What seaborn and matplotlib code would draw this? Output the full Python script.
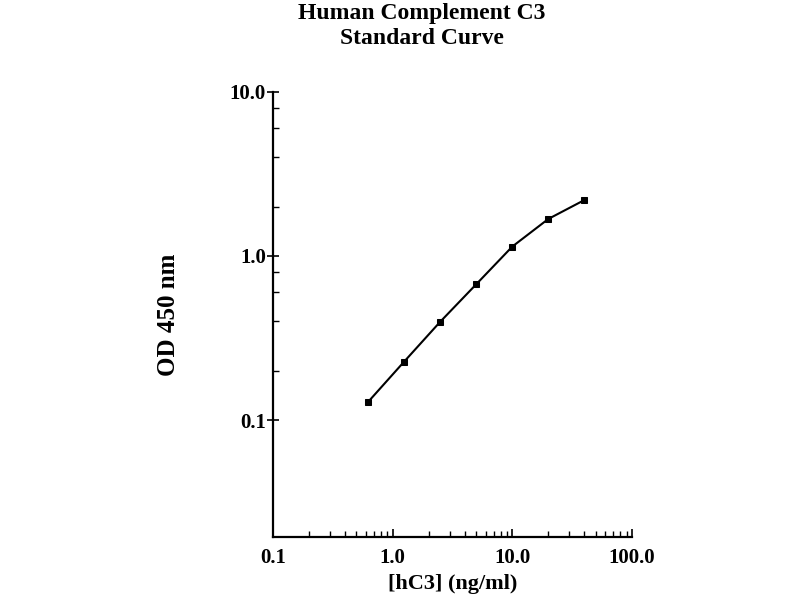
import numpy as np
import pandas as pd
import seaborn as sns
import matplotlib.pyplot as plt
from matplotlib.ticker import FixedLocator, FixedFormatter

# standard curve values
conc_ng_ml = [0.625, 1.25, 2.5, 5.0, 10.0, 20.0, 40.0]
od_450 = [0.129, 0.227, 0.397, 0.672, 1.14, 1.68, 2.19]

x_ticks = [0.1, 1.0, 10.0, 100.0]
x_tick_labels = ['0.1', '1.0', '10.0', '100.0']
y_ticks = [0.1, 1.0, 10.0]
y_tick_labels = ['0.1', '1.0', '10.0']

df = pd.DataFrame({'conc': conc_ng_ml, 'od': od_450})

sns.set_style('ticks', {'text.color': 'black', 'axes.labelcolor': 'black',
                        'xtick.color': 'black', 'ytick.color': 'black', 'axes.edgecolor': 'black'})
plt.rcParams['font.family'] = ['Liberation Serif', 'DejaVu Serif']
plt.rcParams['font.weight'] = 'bold'

fig = plt.figure(figsize=(8, 6), dpi=100)
ax = fig.add_axes([0.341, 0.105, 0.449, 0.742])

sns.lineplot(data=df, x='conc', y='od', ax=ax, color='black', linewidth=1.5,
             marker='s', markersize=5, markeredgecolor='black', markerfacecolor='black')

ax.set_xscale('log')
ax.set_yscale('log')
ax.set_xlim(0.1, 100)
ax.set_ylim(0.0194, 10)

ax.xaxis.set_major_locator(FixedLocator(x_ticks))
ax.xaxis.set_major_formatter(FixedFormatter(x_tick_labels))
ax.xaxis.set_minor_locator(FixedLocator([m * d for d in [0.1, 1, 10] for m in range(2, 10)]))
ax.xaxis.set_minor_formatter(FixedFormatter([]))
ax.yaxis.set_major_locator(FixedLocator(y_ticks))
ax.yaxis.set_major_formatter(FixedFormatter(y_tick_labels))
ax.yaxis.set_minor_locator(FixedLocator([m * d for d in [0.1, 1] for m in (2, 4, 6, 8)]))
ax.yaxis.set_minor_formatter(FixedFormatter([]))

ax.tick_params(axis='x', which='major', direction='in', length=6, width=1.2, labelsize=15, pad=8)
ax.tick_params(axis='x', which='minor', direction='in', length=4, width=1.0)
ax.tick_params(axis='y', which='major', direction='inout', length=8, width=1.2, labelsize=15, pad=1)
ax.tick_params(axis='y', which='minor', direction='in', length=4, width=1.0)
for lab in ax.get_xticklabels() + ax.get_yticklabels():
    lab.set_fontweight('bold')

sns.despine(ax=ax)
ax.spines['left'].set_linewidth(1.6)
ax.spines['bottom'].set_linewidth(1.6)

ax.set_xlabel('[hC3] (ng/ml)', fontsize=16, fontweight='bold', labelpad=4)
ax.set_ylabel('OD 450 nm', fontsize=18, fontweight='bold', labelpad=36)

fig.text(0.527, 0.995, 'Human Complement C3\nStandard Curve', ha='center', va='top',
         fontsize=17, fontweight='bold', linespacing=1.25)

plt.savefig('out.png', dpi=100)
